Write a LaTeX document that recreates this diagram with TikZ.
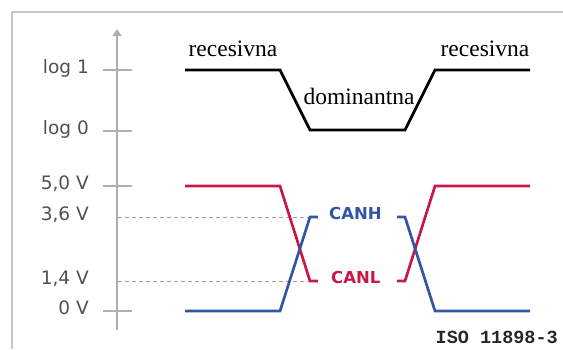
\documentclass[tikz,border=0pt]{standalone}
\usepackage{fontspec}
\setmainfont{Liberation Serif}
\newfontfamily\axisfont{DejaVu Sans}
\newfontfamily\isofont{Liberation Mono}
\usetikzlibrary{arrows.meta}
\definecolor{canred}{RGB}{200,25,70}
\definecolor{canblue}{RGB}{50,85,165}
\definecolor{axisgray}{RGB}{175,175,175}
\definecolor{framegray}{RGB}{200,200,200}
\definecolor{labelgray}{RGB}{80,80,80}
\tikzset{
	levellabel/.style={anchor=mid east, inner sep=0pt, yshift=-1.5pt, text=labelgray,
			font=\axisfont\fontsize{18.5}{18.5}\selectfont},
	statelabel/.style={anchor=base, inner sep=0pt,
			font=\fontsize{23.5}{23.5}\selectfont},
	wirelabel/.style={anchor=mid west, inner sep=0pt,
			font=\axisfont\bfseries\fontsize{16.5}{16.5}\selectfont},
	tickmark/.style={axisgray, line width=1.4pt},
	guide/.style={axisgray!90!black, line width=0.9pt, dash pattern=on 4pt off 3pt},
	signal/.style={line width=2.7pt, line join=miter}
}

\begin{document}
\begin{tikzpicture}[x=1pt, y=-1pt]
	\useasboundingbox (0,0) rectangle (563,349);

	% frame
	\draw[framegray, line width=2.4pt] (12,349) -- (12,12) -- (563,12);

	% vertical axis
	\coordinate (ybot) at (117,330);
	\coordinate (ytop) at (117,29);
	\draw[axisgray, line width=1.6pt, -{Triangle[length=7pt, width=9pt]}] (ybot) -- (ytop);

	% levels: logic and voltage
	\foreach \name/\yy/\txt in {l1/70/log 1, l0/131/log 0, v50/186/{5,0 V}, v00/311/0 V}{
			\draw[tickmark] (103,\yy) -- (132,\yy);
			\node[levellabel] (\name) at (89,\yy) {\txt};
		}
	\node[levellabel] (v36) at (89,217) {3,6 V};
	\node[levellabel] (v14) at (89,281) {1,4 V};
	\draw[guide] (118,217) -- (309,217);
	\draw[guide] (118,281) -- (309,281);

	% logic state
	\draw[signal, black] (185,70) -- (280,70) -- (310,130) -- (405,130) -- (435,70) -- (530,70);
	\node[statelabel] (rec1) at (233,56) {recesivna};
	\node[statelabel] (dom) at (359,104) {dominantna};
	\node[statelabel] (rec2) at (485,56) {recesivna};

	% CANL
	\draw[signal, canred] (185,186) -- (280,186) -- (310,281) -- (318,281);
	\draw[signal, canred] (397,281) -- (405,281) -- (435,186) -- (530,186);
	\node[wirelabel, text=canred] (canl) at (331,281) {CANL};

	% CANH
	\draw[signal, canblue] (185,311) -- (280,311) -- (310,217) -- (318,217);
	\draw[signal, canblue] (397,217) -- (405,217) -- (435,311) -- (530,311);
	\node[wirelabel, text=canblue] (canh) at (329,217) {CANH};

	\node[anchor=base east, inner sep=0pt, text=black!85,
		font=\isofont\bfseries\fontsize{18.5}{18.5}\selectfont] (iso) at (558,343) {ISO 11898-3};
\end{tikzpicture}
\end{document}
